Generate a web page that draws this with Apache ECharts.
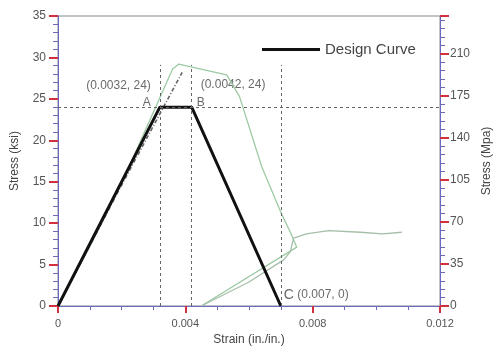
<!DOCTYPE html>
<html>
<head>
<meta charset="utf-8">
<script src="https://cdn.jsdelivr.net/npm/echarts@6/dist/echarts.min.js"></script>
<style>
  html, body { margin: 0; padding: 0; background: #fff; }
  #chart { width: 501px; height: 351px; }
</style>
</head>
<body>
<div id="chart"></div>
<script>
// design curve (strain, ksi)
var designStrain = [0, 0.0032, 0.0042, 0.007];
var designStress = [0, 24, 24, 0];

// test curve
var testStrain = [0, 0.0010, 0.0020, 0.0031, 0.0036, 0.0038, 0.0040, 0.0053, 0.0057, 0.0064, 0.0070, 0.0073, 0.0075, 0.0045];
var testStress = [0, 7.2, 14.8, 24.3, 28.6, 29.2, 29.0, 27.9, 25.3, 16.8, 11.3, 8.9, 7.1, 0];

// reload branch and plateau
var reloadStrain = [0.0045, 0.0060, 0.0071, 0.0073, 0.0074, 0.0078, 0.0085, 0.0095, 0.0102, 0.0108];
var reloadStress = [0, 2.9, 5.6, 6.6, 8.2, 8.7, 9.1, 8.9, 8.7, 8.9];

// dash-dot test line near the elastic branch
var dashStrain = [0, 0.0020, 0.0039];
var dashStress = [0, 14.6, 28.2];

var guideX = [0.0032, 0.0042, 0.007];
var guideY = 24;
var guideTop = 29.1;

var leftTicks = [0, 35, 5];
var rightMax = 35 * 6.895;

function pairs(xs, ys) {
  return xs.map(function (x, i) { return [x, ys[i]]; });
}

var chart = echarts.init(document.getElementById('chart'));
var txt = '#555';
var font = 'Liberation Sans';

var vLines = guideX.map(function (x) {
  return [{ coord: [x, 0] }, { coord: [x, guideTop] }];
});
vLines.push([{ coord: [0, guideY] }, { coord: [0.012, guideY] }]);

chart.setOption({
  animation: false,
  textStyle: { fontFamily: font },
  grid: { left: 58, right: 61, top: 16, bottom: 44, show: true, borderColor: '#888', borderWidth: 1 },
  legend: {
    data: [{ name: 'Design Curve', icon: 'rect' }],
    left: 257, top: 37,
    itemWidth: 58, itemHeight: 3, itemGap: 10,
    textStyle: { fontSize: 15, color: '#444', fontFamily: font }
  },
  xAxis: {
    type: 'value', min: 0, max: 0.012, interval: 0.004,
    name: 'Strain (in./in.)', nameLocation: 'middle', nameGap: 28,
    nameTextStyle: { fontSize: 12, color: '#444' },
    axisLine: { lineStyle: { color: '#6a6ac0', width: 1 } },
    axisTick: { show: true, length: 7, lineStyle: { color: '#d03040', width: 2 } },
    minorTick: { show: true, splitNumber: 4, length: 4, lineStyle: { color: '#6a6ac0' } },
    axisLabel: { color: txt, fontSize: 11, margin: 12,
      formatter: function (v) { return v === 0 ? '0' : String(+v.toFixed(3)); } },
    splitLine: { show: false }
  },
  yAxis: [{
    type: 'value', min: leftTicks[0], max: leftTicks[1], interval: leftTicks[2],
    name: 'Stress (ksi)', nameLocation: 'middle', nameGap: 37,
    nameTextStyle: { fontSize: 12, color: '#444' },
    axisLine: { show: true, lineStyle: { color: '#6a6ac0', width: 1 } },
    axisTick: { show: true, length: 9, lineStyle: { color: '#d03040', width: 2 } },
    minorTick: { show: true, splitNumber: 5, length: 5, lineStyle: { color: '#6a6ac0' } },
    axisLabel: { color: txt, fontSize: 12, margin: 12 },
    splitLine: { show: false }
  }, {
    type: 'value', min: 0, max: rightMax, interval: 35, position: 'right',
    name: 'Stress (Mpa)', nameLocation: 'middle', nameGap: 36,
    nameTextStyle: { fontSize: 12, color: '#444' },
    axisLine: { show: true, lineStyle: { color: '#6a6ac0', width: 1 } },
    axisTick: { show: true, length: 9, lineStyle: { color: '#d03040', width: 2 } },
    minorTick: { show: true, splitNumber: 5, length: 5, lineStyle: { color: '#6a6ac0' } },
    axisLabel: { color: txt, fontSize: 12, margin: 10, showMaxLabel: false },
    splitLine: { show: false }
  }],
  series: [{
    name: 'test', type: 'line', data: pairs(testStrain, testStress),
    symbol: 'none', silent: true,
    lineStyle: { color: '#9ccaa4', width: 1.3 },
    markLine: {
      silent: true, symbol: 'none', label: { show: false },
      lineStyle: { color: '#666', type: [3, 3], width: 1 },
      data: vLines
    }
  }, {
    name: 'reload', type: 'line', data: pairs(reloadStrain, reloadStress),
    symbol: 'none', silent: true,
    lineStyle: { color: '#a4bfa8', width: 1.3 }
  }, {
    name: 'dash', type: 'line', data: pairs(dashStrain, dashStress),
    symbol: 'none', silent: true,
    lineStyle: { color: '#666', width: 1.6, type: [4, 2, 1, 2] }
  }, {
    name: 'Design Curve', type: 'line', data: pairs(designStrain, designStress),
    symbol: 'none', lineStyle: { color: '#111', width: 3 },
    itemStyle: { color: '#111' }
  }, {
    name: 'labels', type: 'scatter', symbolSize: 0, silent: true,
    label: { show: true, color: '#444', fontSize: 12, fontFamily: font },
    data: [
      { value: [designStrain[1], designStress[1]], label: { formatter: 'A', position: 'left', distance: 9, offset: [0, -4] } },
      { value: [designStrain[1], designStress[1]], label: { formatter: '(0.0032, 24)', position: 'left', distance: 9, offset: [0, -21] } },
      { value: [designStrain[2], designStress[2]], label: { formatter: 'B', position: 'right', distance: 5, offset: [0, -4] } },
      { value: [designStrain[2], designStress[2]], label: { formatter: '(0.0042, 24)', position: 'right', distance: 9, offset: [0, -22] } },
      { value: [designStrain[3], designStress[3]], label: { formatter: '{c|C} (0.007, 0)', position: 'right', distance: 3, offset: [0, -11],
        rich: { c: { fontSize: 14, color: '#444' } } } }
    ]
  }]
});
</script>
</body>
</html>
